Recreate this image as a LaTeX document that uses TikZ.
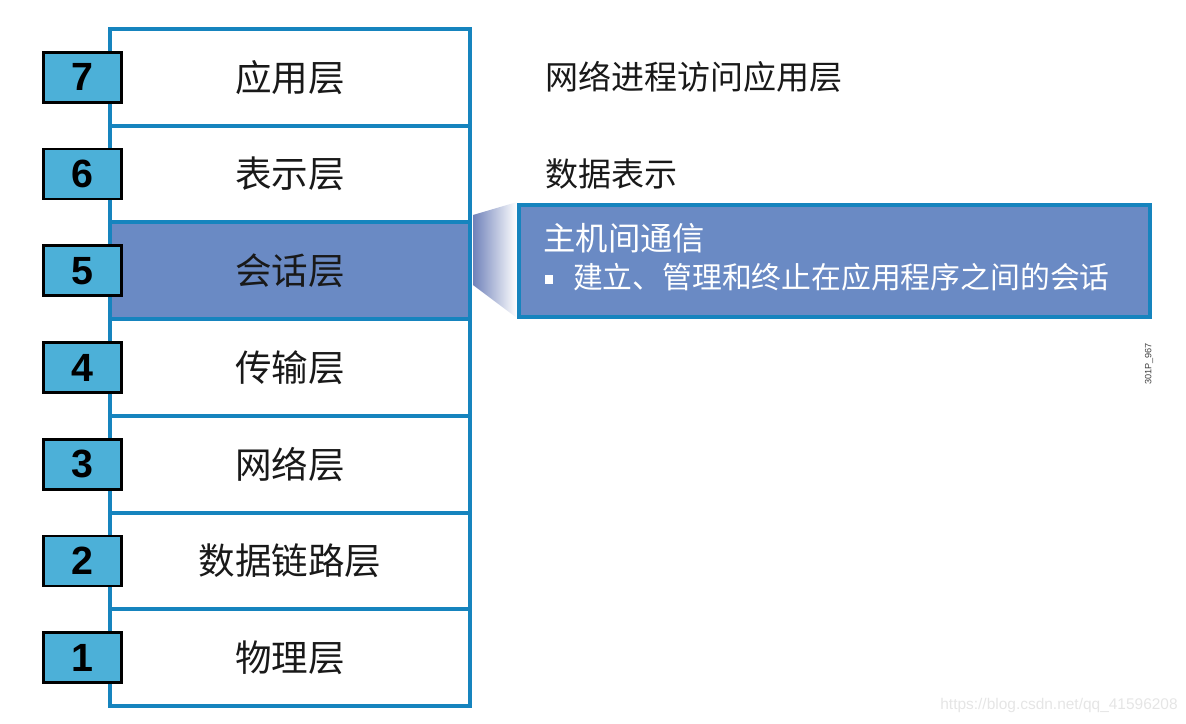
\documentclass[tikz,border=0pt]{standalone}
\usepackage{fontspec}
\setsansfont{Liberation Sans}
\newfontfamily\cjk{Noto Sans CJK SC}
\usetikzlibrary{positioning}

\definecolor{frameblue}{RGB}{22,132,190}
\definecolor{numblue}{RGB}{76,176,216}
\definecolor{sessblue}{RGB}{106,138,196}
\definecolor{wedgeblue}{RGB}{112,130,186}

\begin{document}
\begin{tikzpicture}[
  x=0.025cm, y=-0.025cm,
  node distance=0pt,
  layer/.style={draw=frameblue, line width=2.85pt, outer sep=0pt,
    minimum width=9cm, minimum height=2.4175cm,
    font=\cjk\fontsize{26}{30}\selectfont, text=black!90},
  num/.style={draw=black, fill=numblue, line width=2pt,
    minimum width=1.95cm, minimum height=1.25cm, inner sep=0pt,
    font=\sffamily\bfseries\fontsize{28}{32}\selectfont},
  note/.style={inner sep=0pt, font=\cjk\fontsize{23.5}{27}\selectfont, text=black!90},
  callout/.style={draw=frameblue, fill=sessblue, line width=2.85pt, outer sep=0pt,
    minimum width=15.775cm, minimum height=2.8cm},
  calltext/.style={inner sep=0pt, text=white, font=\cjk\fontsize{21.2}{25}\selectfont}
]
\useasboundingbox (0,0) rectangle (1186,724);

% the seven layers
\node[layer] (l7) at (290,77.35) {应用层};
\node[layer, below=of l7] (l6) {表示层};
\node[layer, below=of l6, fill=sessblue] (l5) {会话层};
\node[layer, below=of l5] (l4) {传输层};
\node[layer, below=of l4] (l3) {网络层};
\node[layer, below=of l3] (l2) {数据链路层};
\node[layer, below=of l2] (l1) {物理层};

\foreach \n in {7,...,1}
  \node[num, left=-0.325cm of l\n.west] (n\n) {\n};

% notes on the right
\node[note, right=1.875cm of l7] (app) {网络进程访问应用层};
\node[note, right=1.875cm of l6] (pres) {数据表示};

% callout for the session layer
\shade[left color=wedgeblue, right color=white] (473,215) -- (517,202) -- (517,318) -- (473,285) -- cycle;
\node[callout, right=1.225cm of l5, yshift=0.24cm] (call) {};
\node[calltext, anchor=west, font=\cjk\fontsize{23}{27}\selectfont]
  (ctitle) at ([xshift=0.6cm,yshift=-0.825cm]call.north west) {主机间通信};
\node[fill=white, minimum size=0.22cm, inner sep=0pt]
  (bullet) at ([xshift=0.75cm,yshift=-1.85cm]call.north west) {};
\node[calltext, right=0.475cm of bullet, yshift=0.05cm] (ctext) {建立、管理和终止在应用程序之间的会话};

\node[rotate=90, inner sep=0pt, text=black!75, font=\sffamily\fontsize{6.5}{7}\selectfont]
  (code) at (1149,364) {301P\_967};
\node[anchor=east, inner sep=0pt, text=black!10, font=\sffamily\fontsize{11}{13}\selectfont]
  (mark) at (1178,705) {https://blog.csdn.net/qq\_41596208};

\end{tikzpicture}
\end{document}
